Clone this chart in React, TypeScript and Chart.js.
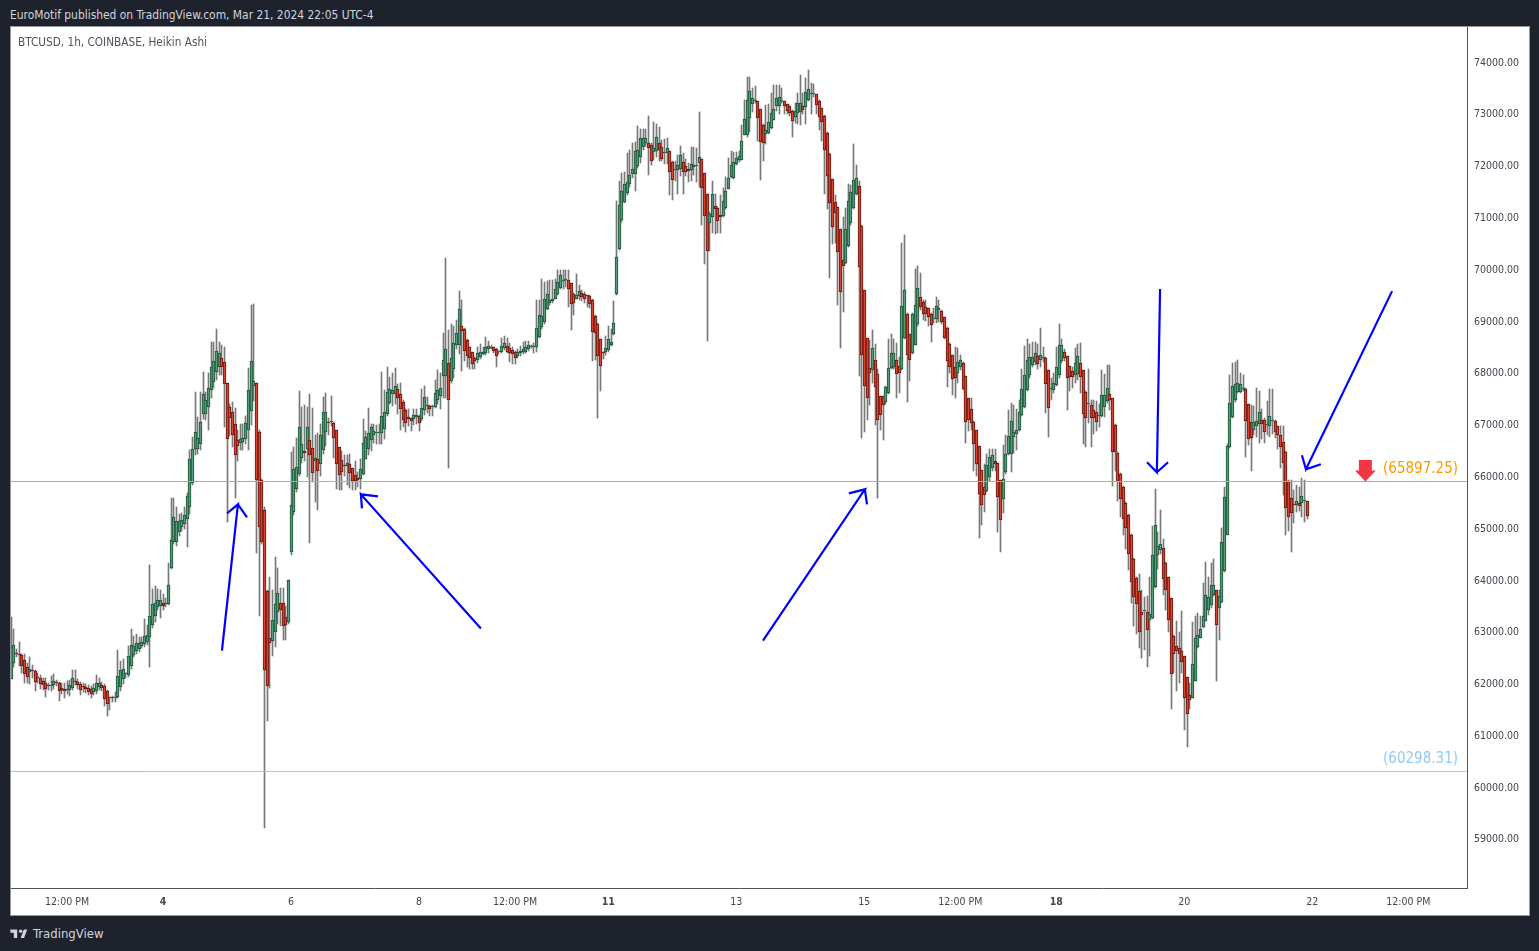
import { useEffect, useRef } from 'react';
import Chart from 'chart.js/auto';

const opens = [
  62090,62400,62570,62560,62550,62450,62320,62220,62250,62240,62130,62110,62050,62000,61950,61950,61960,62010,62000,61920,61900,61870,61880,61920,
  62050,62020,61990,61940,61930,61910,61890,61830,61860,61930,61960,61940,61860,61720,61720,61720,61730,61930,62090,62180,62170,62340,62540,62630,
  62670,62730,62760,62790,62890,63120,63310,63470,63500,63560,63540,63530,64230,64730,64730,64920,65020,65080,65170,65400,65870,66530,66530,66630,
  67210,67210,67340,67660,67820,68010,68110,68290,68210,67790,67340,67240,67010,66700,66640,66660,66710,66890,67260,67750,67800,66850,65930,65340,
  63780,62880,62810,62990,63370,63550,63550,63290,63180,64530,65310,65760,66050,66360,66490,66530,66700,66550,66290,66340,66230,66510,66850,67040,
  67040,67035,66900,66560,66310,66210,66200,66230,66150,66030,65970,65950,66050,66340,66530,66690,66790,66840,66840,66840,66920,67210,67420,67580,
  67580,67680,67590,67440,67270,67140,67130,67110,67140,67170,67110,67270,67360,67350,67330,67330,67470,67540,67940,67940,68190,67830,68060,68540,
  68540,68900,68850,68630,68490,68390,68290,68240,68300,68360,68370,68450,68490,68490,68450,68390,68390,68470,68520,68480,68440,68390,68320,68370,
  68390,68400,68450,68500,68500,68500,68680,68880,68980,69220,69350,69380,69430,69520,69640,69770,69780,69790,69720,69520,69430,69470,69530,69510,
  69480,69470,69410,69100,68930,68640,68390,68390,68430,68540,68750,69510,70380,70950,71300,71470,71650,71830,71830,71980,72170,72350,72430,72440,
  72390,72250,72270,72430,72350,72230,72240,72270,72070,71910,71910,71940,72070,71980,71930,71910,71960,71980,72050,72120,71850,71440,70880,71000,
  71220,71180,71050,71030,71170,71540,71770,71760,72020,72100,72110,72590,72580,72910,73180,73240,73240,73080,72780,72600,72620,72730,72880,73140,
  73140,73240,73240,73180,73140,73060,72940,73010,73030,73150,73120,73270,73370,73370,73370,73250,73100,72960,72620,72220,71730,71290,71190,70770,
  70170,70110,70440,70880,71170,71440,71600,70830,69590,68660,68080,68050,68250,67980,67540,67540,67430,67600,68090,68100,68250,68130,68060,68670,
  69140,68740,68380,68540,68930,69460,69370,69260,69240,69140,69030,69040,69200,69190,69080,68870,68560,68330,68100,67990,68100,68190,67930,67500,
  67290,67050,66890,66580,66110,65790,65710,65980,66160,66290,66260,65920,65550,66090,66420,66420,66760,66810,66890,67190,67340,67660,67950,68140,
  68210,68320,68240,68290,68290,68050,67690,67670,67770,67950,68220,68390,68320,68120,68030,67950,67980,68180,68050,67630,67400,67380,67270,67230,
  67160,67160,67340,67450,67580,67500,66990,66450,66050,65800,65490,65260,64870,64400,64040,63790,63370,63390,63370,63220,63260,63860,64470,64570,
  64620,64330,64050,63640,62920,62730,62680,62620,62520,62120,61780,61720,62050,62700,62880,63080,63210,63410,63520,63700,63800,63460,63570,64160,
  64870,66560,67140,67470,67630,67630,67690,67690,67390,67050,66890,66960,67010,67090,67080,66980,66970,67070,67070,66960,66790,66660,66470,65910,
  65570,65470,65440,65480,65480,65520,65530,
];

const closes = [
  62710,62750,62560,62550,62340,62180,62130,62280,62240,62020,62100,61990,61960,61900,61940,61960,62050,62000,61850,61880,61850,61880,61960,62110,
  62020,61960,61870,61930,61890,61830,61800,61910,62010,62010,61910,61700,61600,61710,61720,61740,62150,62260,62280,62180,62520,62750,62730,62780,
  62780,62790,62920,62940,63310,63530,63550,63600,63600,63490,63530,63900,64760,65220,65130,65130,65150,65260,65620,66340,66530,66850,66740,67040,
  67580,67480,67710,68110,68230,68420,68370,68110,67780,66720,67130,66790,66400,66580,66720,66740,67030,67670,68230,67840,65930,65020,64730,62250,
  61940,62780,63230,63530,63740,63410,63100,63120,63990,65450,66130,66180,66950,66630,66440,66940,66400,66060,66360,66100,66790,67230,67230,67030,
  67040,66740,66240,66030,66080,66200,66260,66070,65910,65910,65930,66140,66650,66750,66840,66940,66870,66850,66850,67170,67230,67630,67690,67670,
  67750,67500,67300,67090,67035,67110,67070,67190,67180,67030,67310,67520,67360,67300,67330,67610,67670,67710,68240,68450,67480,68290,68580,68770,
  69220,68810,68410,68320,68280,68170,68230,68370,68390,68400,68490,68520,68480,68420,68320,68390,68520,68580,68400,68380,68350,68290,68390,68420,
  68450,68500,68540,68500,68510,68870,69110,69090,69430,69510,69410,69430,69620,69740,69880,69780,69790,69620,69320,69350,69500,69580,69460,69430,
  69470,69330,68790,68770,68320,68130,68380,68480,68640,68600,68950,70240,71230,71510,71650,71670,71820,71930,72280,72290,72530,72520,72520,72330,
  72090,72340,72550,72290,72120,72240,72330,71880,71710,71910,72000,72210,71880,71880,71900,72020,72000,71990,72160,71570,71030,70340,71070,71440,
  71150,70930,71010,71310,71510,71760,72000,72070,72140,72180,72470,72890,73270,73440,73300,73240,72910,72460,72430,72690,72830,73010,73090,73310,
  73320,73240,73150,73060,73010,72850,73050,73200,73200,73070,73410,73470,73370,73380,73160,72930,72830,72300,71800,71270,70820,71080,70330,69550,
  70060,70770,71310,71480,71710,71750,70040,68330,67740,67510,67990,68470,67720,67090,67190,67370,67720,68080,68370,68380,67980,67990,69280,69590,
  68340,68240,69140,69300,69640,69270,69140,69140,69080,68910,69060,69290,69250,68980,68660,68230,68110,67870,67890,68210,68250,67690,67050,67080,
  67030,66620,66240,65660,65440,65640,66220,66370,66400,66240,65600,65160,65950,66420,66770,67060,66860,66890,67230,67680,67960,68240,68300,68300,
  68380,68160,68330,68290,67780,67320,67700,67790,68100,68530,68540,68280,67900,67910,67910,68180,68320,67920,67210,67130,67400,67130,67130,67050,
  67160,67560,67560,67710,67470,66470,66470,65890,65550,65180,65000,64500,63960,63670,63540,62990,63320,63390,63030,63340,64470,65050,64650,64700,
  64020,63810,63230,62180,62560,62620,62560,62410,61720,61410,61680,62380,62880,62940,63050,63310,63710,63660,63900,63900,63130,63690,64720,65590,
  66580,67420,67740,67780,67790,67780,67690,67070,66710,66730,67050,67060,67230,67010,66850,66980,67170,67070,66850,66790,66570,66260,65390,65220,
  65280,65440,65530,65430,65620,65540,65230,
];

const highs = [
  63280,63040,62660,62800,62560,62560,62400,62500,62350,62260,62200,62160,62110,62100,62000,62150,62190,62060,62020,62000,62000,62050,62060,62260,
  62260,62090,62030,62000,61990,61970,61950,61990,62170,62110,62030,61980,61880,61740,61760,61830,62640,62440,62470,62200,62730,63050,62920,62950,
  62890,62900,63250,63120,64290,63820,63880,63820,63800,63720,63640,64330,65570,65570,65400,65270,65280,65410,65670,66500,66760,67630,67150,67630,
  68020,67620,68000,68590,68600,68850,68600,68530,68490,67800,67400,67430,67310,66900,67010,67000,67170,68090,69310,69320,67800,66900,65950,65400,
  63800,64050,63800,64440,64220,63850,63840,63500,63990,66470,66560,66730,67650,67340,67370,67340,67590,67310,66800,66830,67000,67530,67600,67120,
  67550,67040,66900,66560,66480,66410,66410,66430,66160,66300,66090,66340,67110,66870,67310,67000,67000,66990,67000,68020,67660,68100,67910,68000,
  68080,67780,67790,67470,67290,67300,67130,67290,67300,67190,67680,67750,67520,67380,67370,67850,68050,68000,68770,70210,68830,68930,68900,69020,
  69570,69410,68860,68640,68500,68400,68300,68500,68560,68500,68680,68610,68530,68500,68480,68420,68670,68710,68670,68580,68490,68410,68450,68510,
  68590,68610,68610,68540,68580,69400,69400,69800,69740,69770,69780,69780,69800,69980,69980,69990,69980,69990,69730,69530,69900,69700,69600,69560,
  69500,69490,69420,69110,68950,68650,68400,68700,68900,68850,69380,71320,71700,71860,71870,72240,72290,72430,72460,72770,72710,72710,72710,72950,
  72440,72840,72800,72750,72490,72510,72520,72270,72080,72080,72210,72370,72240,72120,72050,72360,72350,72330,73030,72120,71860,71450,71100,71700,
  71440,71190,71430,71560,71770,72140,72280,72260,72250,72280,72780,73270,73700,73710,73500,73530,73240,73090,72790,73170,73190,73390,73560,73550,
  73550,73500,73240,73190,73150,73070,73210,73390,73750,73400,73680,73850,73600,73570,73380,73260,73110,72970,72640,72230,71740,71420,71190,70780,
  71000,71180,71640,71630,72420,72010,71700,70840,69600,68660,68630,68820,68550,68060,67550,67550,67750,68650,68740,68650,68580,68300,70510,70650,
  69150,68740,69150,70000,70060,69930,69400,69400,69250,69150,69250,69460,69410,69200,69080,68880,68570,68340,68500,68480,68330,68200,67940,67500,
  67500,67060,66890,66590,66120,66240,66420,66530,66530,66530,66260,65930,66610,66790,67280,67420,67380,67300,67480,68060,68520,68640,68560,68600,
  68600,68560,68870,68500,68300,68050,67900,68000,68500,68930,68650,68450,68320,68130,68100,68470,68550,68580,68050,67640,68060,67480,67470,67450,
  67400,68050,67980,68140,68140,67510,67000,66460,66060,65810,65500,65270,64880,64420,64050,64120,63810,63660,63690,64050,65030,65760,64930,65340,
  64780,64340,64050,63640,62930,63200,63000,63400,62530,62130,62000,63180,63300,63360,63300,63940,64340,64050,64330,64400,63810,63810,65000,65800,
  66620,67950,68180,68210,68240,68000,67960,67700,67400,67370,67350,67700,67650,67290,67130,67450,67680,67690,67080,66970,66960,66970,66480,65920,
  65930,65730,65830,65800,65960,65920,65530,
];

const lows = [
  62090,62310,62500,62330,62200,62000,62000,61990,62100,61850,62000,61900,61880,61730,61880,61850,61900,61950,61660,61800,61720,61800,61750,61870,
  61970,61900,61780,61840,61820,61780,61720,61770,61800,61870,61860,61560,61370,61490,61640,61640,61720,61860,61990,62100,62120,62280,62500,62560,
  62600,62680,62710,62740,62320,63060,63180,63420,63260,63420,63470,63520,64200,64700,64660,64850,64950,64980,64630,65270,65830,66400,66420,66500,
  67100,67090,66900,67500,67700,67850,67950,67950,66940,65120,66770,66570,65570,66300,66500,66510,66620,66500,66990,67460,64510,63300,64700,59210,
  61280,61920,62530,62700,63150,63100,62830,62840,63140,64470,65250,65700,66000,66250,66300,65990,64710,65880,65500,65340,66010,66420,66580,66790,
  66960,66350,65760,65740,65730,66000,65830,65780,65730,65730,65800,65750,66030,66330,66400,66490,66650,66630,66620,66620,66720,67170,67390,67360,
  67400,67210,66900,66950,66860,66960,66880,66980,67000,66880,67070,67190,67220,67170,67160,67320,67400,67300,67500,67500,66160,67800,67900,68450,
  68360,68040,68230,68110,68060,68060,68060,68190,68270,68330,68330,68380,68450,68370,68110,68350,68370,68440,68370,68200,68170,68170,68290,68320,
  68360,68380,68410,68470,68380,68400,68660,68850,68940,69200,69300,69350,69420,69500,69620,69620,69660,69260,68830,69120,69420,69400,69380,69350,
  69260,69240,68230,68240,67130,67650,68270,68330,68400,68520,68730,69500,70370,70900,71280,71420,71590,71750,71500,71950,72040,72300,72380,71820,
  72000,72100,72170,72090,72080,72030,72030,71430,71330,71690,71450,71800,71450,71800,71670,71700,71810,71670,71590,70850,70090,68610,70350,70690,
  70680,70690,70690,71010,71150,71540,71750,71740,72000,72060,72100,72590,72550,72640,73040,73200,72480,71710,72080,72410,72600,72700,72870,73060,
  73000,73200,73000,73000,72950,72540,72810,72800,72780,73000,72800,73250,73000,73330,73000,72680,72480,71450,71160,69820,70490,70500,69300,68470,
  69170,70100,70430,70850,71150,71420,67940,66740,66860,67080,67380,67800,66980,65580,66900,66700,67400,67590,68070,68070,67500,67600,68050,68650,
  67440,67830,68360,68540,68900,69200,69010,69000,68900,68600,68950,68950,68980,68930,68650,67720,68000,67560,67510,67800,68050,67660,66640,66880,
  66900,66100,66000,64800,65050,65300,65700,65900,66100,66100,64920,64530,65280,66050,66400,66080,66450,66510,66870,67170,67310,67650,67900,68100,
  68150,68060,68100,68200,67220,66760,67480,67600,67750,67900,68190,68220,67280,67640,67700,67800,67850,67600,66630,66570,67020,66560,66820,66880,
  66950,67140,67150,67420,67270,65820,66100,65520,65210,64860,64590,64190,63550,63110,62950,62690,62480,62640,62310,62520,63250,63850,64200,64500,
  63710,63420,63000,61500,62200,61850,62000,62200,61100,60780,61500,61710,62040,62690,62870,63060,63200,63320,63450,63680,62050,62840,63560,64150,
  64860,66550,67130,67440,67600,67600,67650,66370,66600,66100,66800,66750,66650,66710,66650,66800,66750,66810,66730,66520,66160,65640,64860,64950,
  64530,65100,65300,65330,65210,65110,65170,
];

const candleIndex = opens.map((_, i) => i);

const priceTicks = [59000,60000,61000,62000,63000,64000,65000,66000,67000,68000,69000,70000,71000,72000,73000,74000];
const timeTickIndex = [21, 57, 105, 153, 189, 224, 272, 320, 356, 392, 440, 488, 524];
const timeTickLabels = ['12:00 PM','4','6','8','12:00 PM','11','13','15','12:00 PM','18','20','22','12:00 PM'];
const boldTimeLabels = ['4', '11', '18'];

const resistance = 65897.25;
const support = 60298.31;

// drawn arrows: shaft start, tip, one barb, tip, other barb
const arrows = [
  [[79.1,62634],[85.1,65456],[81,65282],[85.1,65456],[88.5,65205]],
  [[176.2,63059],[131.2,65650],[131.6,65379],[131.2,65650],[137.6,65611]],
  [[282,62827],[320.2,65746],[314.2,65669],[320.2,65746],[321,65456]],
  [[430.9,69612],[429.7,66075],[426,66268],[429.7,66075],[433.9,66268]],
  [[517.9,69573],[485.6,66133],[484.1,66403],[485.6,66133],[491.2,66229]],
];

const GREEN = '#549b77';
const GREEN_EDGE = '#1a5236';
const RED = '#d8442f';
const RED_EDGE = '#641510';
const FONT = '"DejaVu Sans Condensed", "Noto Sans", sans-serif';

// TradingView draws candles on whole pixels, so snap the bar elements the scales placed
const snapBars = {
  id: 'snapBars',
  beforeDatasetsDraw(chart) {
    [0, 1].forEach((index) => {
      chart.getDatasetMeta(index).data.forEach((bar) => {
        bar.x = Math.floor(bar.x) + 0.5;
        const top = Math.round(Math.min(bar.y, bar.base));
        const bottom = Math.round(Math.max(bar.y, bar.base));
        bar.y = top;
        bar.base = bottom > top ? bottom : top + 1;
      });
    });
  },
};

const levelLabels = {
  id: 'levelLabels',
  afterDatasetsDraw(chart) {
    const { ctx, scales } = chart;
    const { x, y } = scales;
    ctx.save();
    ctx.font = `15px ${FONT}`;
    ctx.textBaseline = 'middle';
    ctx.textAlign = 'right';
    ctx.fillStyle = '#ff9800';
    ctx.fillText(`(${resistance})`, chart.chartArea.right - 9, y.getPixelForValue(resistance) - 12);
    ctx.fillStyle = '#90caf9';
    ctx.fillText(`(${support})`, chart.chartArea.right - 9, y.getPixelForValue(support) - 12);

    // red marker pointing down at the level
    const cx = x.getPixelForValue(507.9);
    const tip = y.getPixelForValue(resistance);
    ctx.fillStyle = '#f23645';
    ctx.beginPath();
    ctx.moveTo(cx, tip);
    ctx.lineTo(cx + 10.5, tip - 11);
    ctx.lineTo(cx + 6.5, tip - 11);
    ctx.lineTo(cx + 6.5, tip - 21.5);
    ctx.lineTo(cx - 6.5, tip - 21.5);
    ctx.lineTo(cx - 6.5, tip - 11);
    ctx.lineTo(cx - 10.5, tip - 11);
    ctx.closePath();
    ctx.fill();
    ctx.restore();
  },
};

function BtcChart() {
  const canvasRef = useRef(null);

  useEffect(() => {
    const chart = new Chart(canvasRef.current, {
      type: 'bar',
      data: {
        datasets: [
          {
            data: candleIndex.map((i) => ({ x: i, y: [lows[i], highs[i]] })),
            backgroundColor: '#787878',
            barThickness: 1,
            grouped: false,
            order: 3,
          },
          {
            data: candleIndex.map((i) => ({ x: i, y: [opens[i], closes[i]] })),
            backgroundColor: candleIndex.map((i) => (closes[i] >= opens[i] ? GREEN : RED)),
            borderColor: candleIndex.map((i) => (closes[i] >= opens[i] ? GREEN_EDGE : RED_EDGE)),
            borderWidth: 1,
            borderSkipped: false,
            barThickness: 3,
            minBarLength: 1,
            grouped: false,
            order: 2,
          },
          ...[resistance, support].map((level, n) => ({
            type: 'line',
            data: [{ x: 0, y: level }, { x: 546, y: level }],
            borderColor: n === 0 ? '#f7a11f' : '#90caf9',
            borderWidth: 1,
            pointRadius: 0,
            order: 1,
          })),
          ...arrows.map((points) => ({
            type: 'line',
            data: points.map(([x, y]) => ({ x, y })),
            borderColor: '#0000ff',
            borderWidth: 2.2,
            pointRadius: 0,
            tension: 0,
            order: 0,
          })),
        ],
      },
      options: {
        responsive: false,
        animation: false,
        events: [],
        layout: { padding: 0, autoPadding: false },
        plugins: { legend: { display: false }, tooltip: { enabled: false } },
        scales: {
          x: {
            type: 'linear',
            offset: false,
            min: 0,
            max: 546,
            grid: { display: false, drawTicks: false },
            border: { color: '#50535e' },
            afterFit: (scale) => { scale.height = 27; },
            afterBuildTicks: (scale) => { scale.ticks = timeTickIndex.map((value) => ({ value })); },
            ticks: {
              autoSkip: false,
              maxRotation: 0,
              padding: 8,
              color: '#434651',
              font: (ctx) => ({
                family: FONT,
                size: 10.5,
                weight: boldTimeLabels.includes(timeTickLabels[timeTickIndex.indexOf(ctx.tick?.value)]) ? 'bold' : 'normal',
              }),
              callback: (value) => timeTickLabels[timeTickIndex.indexOf(value)],
            },
          },
          y: {
            position: 'right',
            min: 58049,
            max: 74672.2,
            grid: { display: false, drawTicks: false },
            border: { color: '#50535e' },
            afterFit: (scale) => {
              scale.width = 62;
              scale.paddingTop = 0;
              scale.paddingBottom = 0;
            },
            afterBuildTicks: (scale) => { scale.ticks = priceTicks.map((value) => ({ value })); },
            ticks: {
              autoSkip: false,
              padding: 7,
              labelOffset: 1,
              color: '#434651',
              font: { family: FONT, size: 10.5 },
              callback: (value) => Number(value).toFixed(2),
            },
          },
        },
      },
      plugins: [snapBars, levelLabels],
    });
    return () => chart.destroy();
  }, []);

  return <canvas ref={canvasRef} width={1518} height={888} style={{ display: 'block' }} />;
}

export default function App() {
  return (
    <div style={{ position: 'absolute', left: 0, top: 0, width: 1539, height: 951, background: '#1e222d', overflow: 'hidden', fontFamily: FONT }}>
      <div style={{ position: 'absolute', left: 10, top: 8, fontSize: 11.9, color: '#d1d4dc', whiteSpace: 'nowrap' }}>
        EuroMotif published on TradingView.com, Mar 21, 2024 22:05 UTC-4
      </div>
      <div style={{ position: 'absolute', left: 10, top: 26, width: 1518, height: 888, border: '1px solid #9598a1', background: '#fff' }} />
      <div style={{ position: 'absolute', left: 11, top: 27 }}>
        <BtcChart />
      </div>
      <div style={{ position: 'absolute', left: 18, top: 35, fontSize: 11.7, color: '#50535e', whiteSpace: 'nowrap' }}>
        BTCUSD, 1h, COINBASE, Heikin Ashi
      </div>
      <svg style={{ position: 'absolute', left: 9, top: 926 }} width="21" height="16" viewBox="0 0 36 28">
        <path fill="#d1d4dc" d="M14 6H2v6h6v9h6V6zm12 15h-6l5.5-15h6L26 21z" />
        <circle fill="#d1d4dc" cx="20" cy="9" r="3" />
      </svg>
      <div style={{ position: 'absolute', left: 33, top: 926, fontSize: 13, color: '#d1d4dc', whiteSpace: 'nowrap' }}>TradingView</div>
    </div>
  );
}
